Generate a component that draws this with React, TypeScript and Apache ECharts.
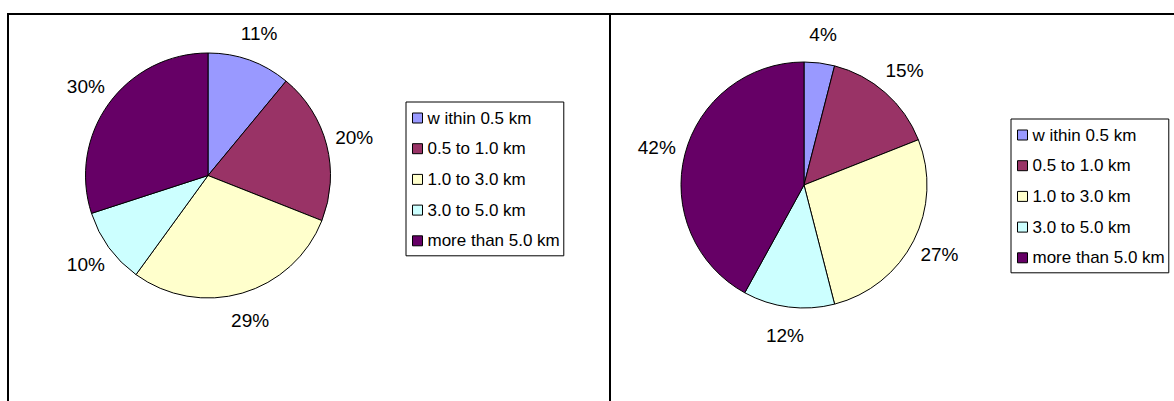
import React, { useEffect, useRef } from "react";
import * as echarts from "echarts";

const categories = ["w ithin 0.5 km", "0.5 to 1.0 km", "1.0 to 3.0 km", "3.0 to 5.0 km", "more than 5.0 km"];
const leftValues = [11, 20, 29, 10, 30];
const rightValues = [4, 15, 27, 12, 42];
const sliceColors = ["#9999FF", "#993366", "#FFFFCC", "#CCFFFF", "#660066"];

const FONT = "'Liberation Sans', Arial, Helvetica, sans-serif";

function pieData(values: number[]) {
  return categories.map((name, i) => ({ name, value: values[i] }));
}

function mainPie(values: number[], center: number[], r: number) {
  return {
    type: "pie",
    center,
    radius: [0, r],
    startAngle: 90,
    clockwise: true,
    silent: true,
    label: { show: false },
    labelLine: { show: false },
    itemStyle: { borderColor: "#000", borderWidth: 1 },
    emphasis: { disabled: true },
    data: pieData(values),
  };
}

function labelRing(values: number[], center: number[], r0: number, r1: number) {
  return {
    type: "pie",
    center,
    radius: [r0, r1],
    startAngle: 90,
    clockwise: true,
    silent: true,
    itemStyle: { color: "rgba(0,0,0,0)", borderWidth: 0 },
    label: {
      show: true,
      position: "inside",
      formatter: "{c}%",
      color: "#000",
      fontSize: 19,
      fontFamily: FONT,
    },
    labelLine: { show: false },
    emphasis: { disabled: true },
    data: pieData(values),
  };
}

function legendAt(left: number, top: number) {
  return {
    orient: "vertical",
    left,
    top,
    padding: [7, 4, 6, 6],
    itemWidth: 10,
    itemHeight: 10,
    itemGap: 12.7,
    icon: "rect",
    selectedMode: false,
    borderColor: "#000",
    borderWidth: 1,
    backgroundColor: "#fff",
    itemStyle: { borderColor: "#000", borderWidth: 1 },
    textStyle: { fontSize: 17, lineHeight: 18, color: "#000", fontFamily: FONT },
    data: categories,
  };
}

export default function App() {
  const ref = useRef<HTMLDivElement>(null);
  useEffect(() => {
    if (!ref.current) return;
    const chart = echarts.init(ref.current, null, { renderer: "svg" });
    chart.setOption({
      animation: false,
      color: sliceColors,
      textStyle: { fontFamily: FONT },
      graphic: [
        { type: "line", shape: { x1: 7, y1: 14, x2: 1174, y2: 14 }, style: { stroke: "#000", lineWidth: 2 } },
        { type: "line", shape: { x1: 8, y1: 13, x2: 8, y2: 401 }, style: { stroke: "#000", lineWidth: 2 } },
        { type: "line", shape: { x1: 610, y1: 13, x2: 610, y2: 401 }, style: { stroke: "#000", lineWidth: 2 } },
      ],
      legend: [legendAt(406, 102), legendAt(1011, 119)],
      series: [
        mainPie(leftValues, [208, 175.5], 122.5),
        mainPie(rightValues, [804, 185], 123),
        labelRing(leftValues, [208, 175.5], 131, 165),
        labelRing(rightValues, [804, 185], 132, 166),
      ],
    });
    return () => chart.dispose();
  }, []);
  return (
    <div
      ref={ref}
      style={{ position: "absolute", left: 0, top: 0, width: 1174, height: 401, background: "#fff" }}
    />
  );
}
